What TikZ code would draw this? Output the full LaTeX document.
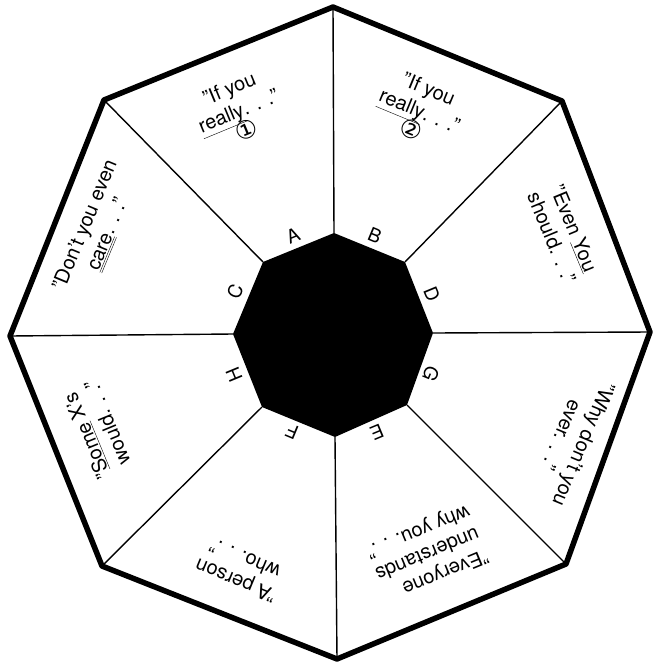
\documentclass[tikz,border=0pt]{standalone}
\usepackage{fontspec}
\setmainfont{TeX Gyre Heros}
\newfontfamily\symfont{DejaVu Sans}
\newcommand\cnum[1]{{\symfont\fontsize{25}{25}\selectfont #1}}
\begin{document}
\begin{tikzpicture}[x=1pt,y=-1pt,
  outer/.style={line width=5.5pt, line join=round},
  spoke/.style={line width=1.4pt},
  lbl/.style={font=\fontsize{19}{20}\selectfont, inner sep=0pt},
  phrase/.style={font=\fontsize{20}{24}\selectfont, align=center, inner sep=0pt}]
\useasboundingbox (0,0) rectangle (656,665);
% outer vertices
\coordinate (O1) at (333,7);
\coordinate (O2) at (562,101);
\coordinate (O3) at (650,332);
\coordinate (O4) at (566,564);
\coordinate (O5) at (337,659);
\coordinate (O6) at (102,566);
\coordinate (O7) at (10,336);
\coordinate (O8) at (104,100);
% inner vertices
\coordinate (I1) at (334,233);
\coordinate (I2) at (405,262);
\coordinate (I3) at (433,333);
\coordinate (I4) at (407,405);
\coordinate (I5) at (335,437);
\coordinate (I6) at (262,407);
\coordinate (I7) at (233,334);
\coordinate (I8) at (263,262);
% spokes
\foreach \i in {1,...,8} \draw[spoke] (I\i) -- (O\i);
% outer octagon
\draw[outer] (O1) -- (O2) -- (O3) -- (O4) -- (O5) -- (O6) -- (O7) -- (O8) -- cycle;
% inner octagon
\fill (I1) -- (I2) -- (I3) -- (I4) -- (I5) -- (I6) -- (I7) -- (I8) -- cycle;
% letters
\node[lbl, rotate=22.5] (A) at (293,236) {A};
\node[lbl, rotate=-22.5] (B) at (375,236) {B};
\node[lbl, rotate=67.5] (C) at (235,292) {C};
\node[lbl, rotate=-67.5] (D) at (432,294) {D};
\node[lbl, rotate=-112.5] (G) at (431,374) {G};
\node[lbl, rotate=-157.5] (E) at (377,432) {E};
\node[lbl, rotate=157.5] (F) at (292,432) {F};
\node[lbl, rotate=112.5] (H) at (234,375) {H};
% phrases
\node[phrase, rotate=22.5] (p1) at (238,110) {”If you\\\underline{really}. . .”\\[-3pt]\cnum{①}};
\node[phrase, rotate=-22.5] (p2) at (420,110) {”If you\\\underline{really}. . .”\\[-3pt]\cnum{②}};
\node[phrase, rotate=-67.5] (p3) at (563,233) {”Even \underline{You}\\should. . .”};
\node[phrase, rotate=-112.5] (p4) at (573,440) {”Why don’t you\\ever. . .”};
\node[phrase, rotate=-157.5, align=left] (p5) at (427,553) {”Everyone\\understands\\why you. . .”};
\node[phrase, rotate=157.5, align=left] (p6) at (240,570) {”A person\\\ who. . .”};
\node[phrase, rotate=112.5, align=left] (p7) at (97,430) {”\underline{Some} X’s\\\ would. . .”};
\node[phrase, rotate=67.5] (p8) at (97,230) {”Don’t you even\\\underline{\underline{care}}. . .”};
\end{tikzpicture}
\end{document}
